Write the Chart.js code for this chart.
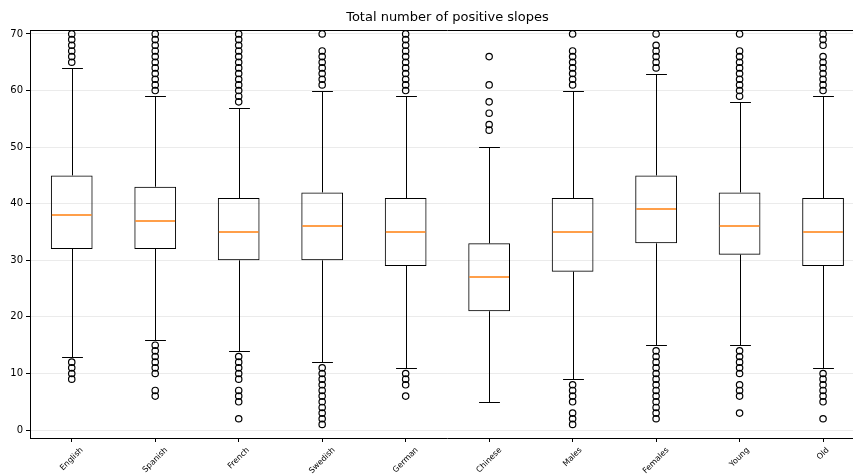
<!DOCTYPE html>
<html>
<head>
<meta charset="utf-8">
<title>Total number of positive slopes</title>
<script src="https://cdn.jsdelivr.net/npm/chart.js@4/dist/chart.umd.min.js"></script>
<style>
  html, body { margin: 0; padding: 0; background: #fff; overflow: hidden; }
  canvas { display: block; }
</style>
</head>
<body>
<canvas id="slopes-chart" width="870" height="474"></canvas>
<script>
// Groups along the x axis
const categories = ['English', 'Spanish', 'French', 'Swedish', 'German', 'Chinese', 'Males', 'Females', 'Young', 'Old'];

// Box statistics per group
const whiskerLow  = [13, 16, 14, 12, 11,  5,  9, 15, 15, 11];
const quartile1   = [32, 32, 30, 30, 29, 21, 28, 33, 31, 29];
const medians     = [38, 37, 35, 36, 35, 27, 35, 39, 36, 35];
const quartile3   = [45, 43, 41, 42, 41, 33, 41, 45, 42, 41];
const whiskerHigh = [64, 59, 57, 60, 59, 50, 60, 63, 58, 59];

// Fliers above and below the whiskers
const outliersHigh = [
  [65, 66, 67, 68, 69, 70],
  [60, 61, 62, 63, 64, 65, 66, 67, 68, 69, 70],
  [58, 59, 60, 61, 62, 63, 64, 65, 66, 67, 68, 69, 70],
  [61, 62, 63, 64, 65, 66, 67, 70],
  [60, 61, 62, 63, 64, 65, 66, 67, 68, 69, 70],
  [53, 54, 56, 58, 61, 66],
  [61, 62, 63, 64, 65, 66, 67, 70],
  [64, 65, 66, 67, 68, 70],
  [59, 60, 61, 62, 63, 64, 65, 66, 67, 70],
  [60, 61, 62, 63, 64, 65, 66, 68, 69, 70]
];
const outliersLow = [
  [9, 10, 11, 12],
  [6, 7, 10, 11, 12, 13, 14, 15],
  [2, 5, 6, 7, 9, 10, 11, 12, 13],
  [1, 2, 3, 4, 5, 6, 7, 8, 9, 10, 11],
  [6, 8, 9, 10],
  [],
  [1, 2, 3, 5, 6, 7, 8],
  [2, 3, 4, 5, 6, 7, 8, 9, 10, 11, 12, 13, 14],
  [3, 6, 7, 8, 10, 11, 12, 13, 14],
  [2, 5, 6, 7, 8, 9, 10]
];

// Y axis tick values
const yTicks = [0, 10, 20, 30, 40, 50, 60, 70];

const chartTitle = 'Total number of positive slopes';

// Flatten fliers into points on the category axis
const flierPoints = [];
categories.forEach((cat, i) => {
  outliersHigh[i].concat(outliersLow[i]).forEach(v => flierPoints.push({ x: cat, y: v }));
});

// Whiskers, medians, top spine, title and rotated labels
const boxExtras = {
  id: 'boxExtras',
  beforeDatasetsDraw(chart) {
    const ctx = chart.ctx;
    const y = chart.scales.y;
    const boxes = chart.getDatasetMeta(0).data;
    ctx.save();
    ctx.strokeStyle = '#000';
    ctx.lineWidth = 1;
    boxes.forEach((bar, i) => {
      const cx = Math.round(bar.x) + 0.5;
      const cap = bar.width / 4;
      const yLo = Math.round(y.getPixelForValue(whiskerLow[i])) + 0.5;
      const yHi = Math.round(y.getPixelForValue(whiskerHigh[i])) + 0.5;
      ctx.beginPath();
      ctx.moveTo(cx, y.getPixelForValue(quartile1[i]));
      ctx.lineTo(cx, yLo);
      ctx.moveTo(cx, y.getPixelForValue(quartile3[i]));
      ctx.lineTo(cx, yHi);
      ctx.moveTo(cx - cap, yLo);
      ctx.lineTo(cx + cap, yLo);
      ctx.moveTo(cx - cap, yHi);
      ctx.lineTo(cx + cap, yHi);
      ctx.stroke();
    });
    ctx.restore();
  },
  afterDatasetsDraw(chart) {
    const ctx = chart.ctx;
    const y = chart.scales.y;
    const x = chart.scales.x;
    const area = chart.chartArea;
    const boxes = chart.getDatasetMeta(0).data;
    ctx.save();

    // median lines
    ctx.strokeStyle = '#ff7f0e';
    ctx.lineWidth = 1.4;
    boxes.forEach((bar, i) => {
      const my = Math.round(y.getPixelForValue(medians[i]));
      ctx.beginPath();
      ctx.moveTo(bar.x - bar.width / 2 + 1, my);
      ctx.lineTo(bar.x + bar.width / 2 - 1, my);
      ctx.stroke();
    });

    // top spine
    ctx.strokeStyle = '#000';
    ctx.lineWidth = 1;
    ctx.beginPath();
    ctx.moveTo(area.left, area.top + 0.5);
    ctx.lineTo(area.right, area.top + 0.5);
    ctx.stroke();

    // title
    ctx.fillStyle = '#000';
    ctx.font = '13px "DejaVu Sans"';
    ctx.textAlign = 'center';
    ctx.textBaseline = 'middle';
    ctx.fillText(chartTitle, (area.left + area.right) / 2, 18);

    // x labels rotated 45 degrees, centred under each tick
    ctx.font = '8px "DejaVu Sans"';
    categories.forEach((cat, i) => {
      const w = ctx.measureText(cat).width;
      const half = (w + 8) / Math.SQRT2 / 2;
      ctx.save();
      ctx.translate(x.getPixelForValue(i), area.bottom + 8 + half);
      ctx.rotate(-Math.PI / 4);
      ctx.fillText(cat, 0, 0);
      ctx.restore();
    });
    ctx.restore();
  }
};

const ctx = document.getElementById('slopes-chart').getContext('2d');
new Chart(ctx, {
  type: 'bar',
  data: {
    labels: categories,
    datasets: [{
      label: 'boxes',
      data: categories.map((_, i) => [quartile1[i], quartile3[i]]),
      backgroundColor: 'rgba(255,255,255,0)',
      borderColor: '#000',
      borderWidth: 1,
      borderSkipped: false,
      barPercentage: 0.5,
      categoryPercentage: 1
    }, {
      type: 'line',
      label: 'fliers',
      data: flierPoints,
      showLine: false,
      pointStyle: 'circle',
      pointRadius: 3.2,
      pointBorderWidth: 1.2,
      pointBorderColor: '#000',
      pointBackgroundColor: 'rgba(255,255,255,0)',
      clip: 6
    }]
  },
  options: {
    responsive: false,
    animation: false,
    devicePixelRatio: 1,
    layout: { padding: { top: 30, right: 4, left: 0, bottom: 0 } },
    plugins: {
      legend: { display: false },
      title: { display: false },
      tooltip: { enabled: false }
    },
    scales: {
      x: {
        type: 'category',
        offset: true,
        grid: { display: true, offset: false, drawOnChartArea: false, tickLength: 4, tickColor: '#000' },
        border: { color: '#000' },
        ticks: { display: false },
        afterFit: s => { s.height = 36; }
      },
      y: {
        min: -1.4,
        max: 70.7,
        afterBuildTicks: s => { s.ticks = yTicks.map(v => ({ value: v })); },
        grid: { color: '#ebebeb', tickLength: 4, tickColor: '#000' },
        border: { color: '#000' },
        ticks: { color: '#000', font: { family: 'DejaVu Sans', size: 10 }, padding: 3 },
        afterFit: s => { s.width = 30; }
      }
    }
  },
  plugins: [boxExtras]
});
</script>
</body>
</html>
